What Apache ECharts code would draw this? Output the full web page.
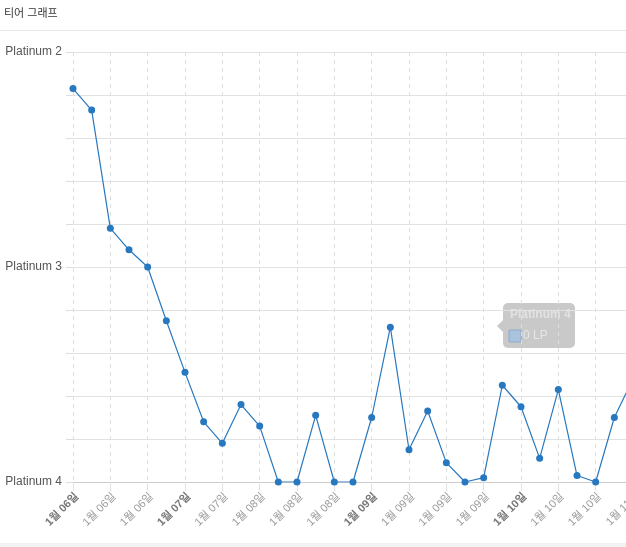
<!DOCTYPE html>
<html>
<head>
<meta charset="utf-8">
<title>티어 그래프</title>
<script src="https://cdn.jsdelivr.net/npm/echarts@6/dist/echarts.min.js"></script>
<style>
html,body{margin:0;padding:0;background:#fff;}
#tierChart{width:626px;height:547px;}
</style>
</head>
<body>
<div id="tierChart"></div>
<script>
// 날짜 라벨 (포인트마다 하나, 짝수 칸에만 표시됨)
var dates = ['1월 06일','1월 06일','1월 06일','1월 06일','1월 06일','1월 07일','1월 07일','1월 07일',
    '1월 07일','1월 08일','1월 08일','1월 08일','1월 08일','1월 08일','1월 08일','1월 09일',
    '1월 09일','1월 09일','1월 09일','1월 09일','1월 09일','1월 09일','1월 09일','1월 10일',
    '1월 10일','1월 10일','1월 10일','1월 10일','1월 10일','1월 10일','1월 11일'];
var boldTicks = [0, 6, 16, 24];   // 날짜가 바뀌는 눈금 (굵게)
// Platinum 4 = 0, Platinum 3 = 100, Platinum 2 = 200
var lpData = [183,173,118,108,100,75,51,28,18,36,26,0,0,31,0,0,30,72,15,33,9,0,2,45,35,11,43,3,0,30,48];
var tierNames = ['Platinum 4','Platinum 3','Platinum 2'];
var tipTier = 'Platinum 4';
var tipLp = 0;

var font = "'Liberation Sans', Arial, 'Noto Sans CJK KR', sans-serif";

var myChart = echarts.init(document.getElementById('tierChart'));
var option = {
    animation: false,
    backgroundColor: '#fff',
    textStyle: {fontFamily: font},
    grid: {left: 73, top: 52, bottom: 65, right: -7, outerBoundsMode: 'none', containLabel: false},
    xAxis: {
        type: 'category',
        boundaryGap: false,
        data: dates,
        axisLine: {lineStyle: {color: '#cccccc'}},
        axisTick: {show: true, interval: 1, length: 9, lineStyle: {color: '#e2e2e2'}},
        axisLabel: {
            interval: 1,
            rotate: 45,
            margin: 9,
            verticalAlign: 'top',
            color: '#9a9a9a',
            fontSize: 11,
            fontFamily: font,
            formatter: function (v, i) {
                return boldTicks.indexOf(i) >= 0 ? '{b|' + v + '}' : v;
            },
            rich: {b: {fontWeight: 'bold', color: '#777777', fontSize: 11, fontFamily: font}}
        },
        splitLine: {show: true, interval: 1, lineStyle: {color: '#dedede', type: [4, 4]}}
    },
    yAxis: {
        type: 'value',
        min: 0,
        max: 200,
        interval: 20,
        axisLine: {show: false},
        axisTick: {show: true, length: 7, lineStyle: {color: '#dddddd'}},
        axisLabel: {
            color: '#555555',
            fontSize: 12,
            margin: 11,
            fontFamily: font,
            formatter: function (v) {
                return v % 100 === 0 ? tierNames[v / 100] : '';
            }
        },
        splitLine: {lineStyle: {color: '#e2e2e2'}}
    },
    series: [{
        type: 'line',
        data: lpData,
        symbol: 'circle',
        symbolSize: 7,
        clip: true,
        lineStyle: {color: '#2878c0', width: 1.2},
        itemStyle: {color: '#2878c0'}
    }],
    graphic: [
        {type: 'text', left: 4, top: 8, style: {text: '티어 그래프', fill: '#333', font: '11px ' + font}},
        {type: 'rect', shape: {x: 0, y: 30, width: 626, height: 1}, style: {fill: '#e6e6e6'}},
        {type: 'rect', shape: {x: 0, y: 543, width: 626, height: 4}, style: {fill: '#f2f2f2'}},
        // 사라지는 중인 툴팁
        {type: 'group', z: 100, children: [
            {type: 'polygon', shape: {points: [[503, 320], [497, 326], [503, 332]]}, style: {fill: '#c9c9c9'}},
            {type: 'rect', shape: {x: 503, y: 303, width: 72, height: 45, r: 5}, style: {fill: '#c9c9c9'}},
            {type: 'text', x: 510, y: 309, style: {text: tipTier, fill: '#e2e2e2', font: 'bold 12px ' + font}},
            {type: 'rect', shape: {x: 509, y: 330, width: 12, height: 12}, style: {fill: '#a9c3de', stroke: '#90a8c4', lineWidth: 1}},
            {type: 'text', x: 523, y: 330, style: {text: tipLp + ' LP', fill: '#e6e6e6', font: '12px ' + font}}
        ]}
    ]
};
myChart.setOption(option);
</script>
</body>
</html>
